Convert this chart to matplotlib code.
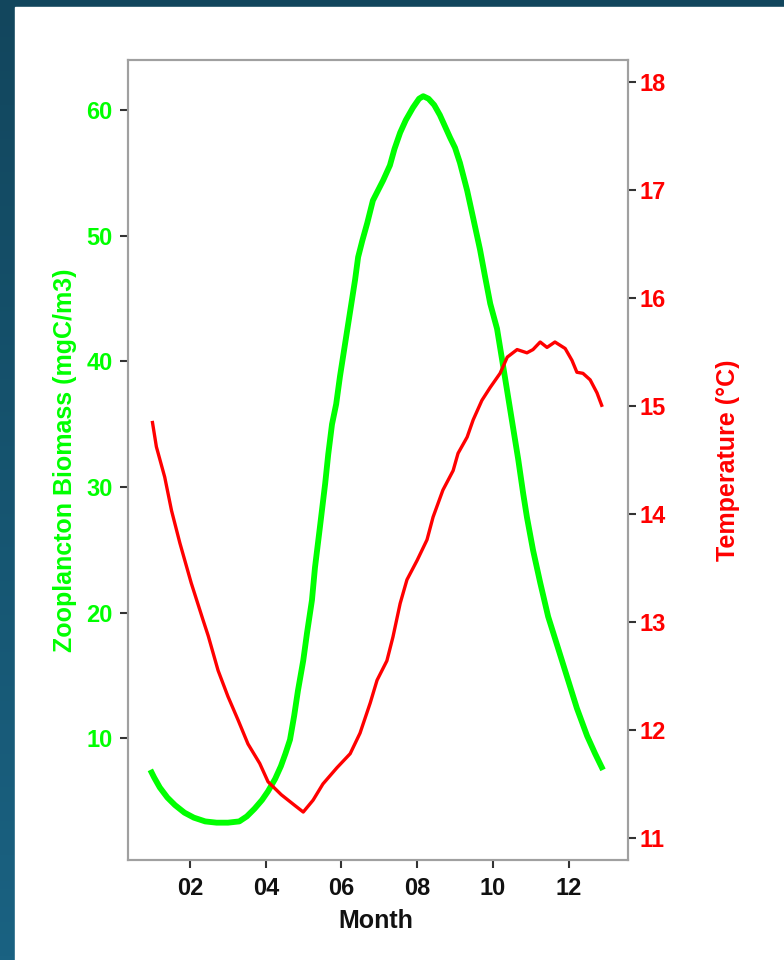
import numpy as np
import matplotlib.pyplot as plt
from matplotlib.colors import LinearSegmentedColormap
from matplotlib.patches import Rectangle

plt.rcParams['font.family'] = ['Liberation Sans', 'DejaVu Sans']
plt.rcParams['font.weight'] = 'bold'
plt.rcParams['axes.labelweight'] = 'bold'

# Zooplankton biomass (mgC/m3) by decimal month
bio_month = [0.95, 1.05, 1.2, 1.4, 1.6, 1.85, 2.1, 2.4, 2.7, 3.0, 3.3, 3.5, 3.7, 3.9,
             4.06, 4.25, 4.4, 4.52, 4.64, 4.75, 4.85, 4.99, 5.09, 5.22, 5.3, 5.43,
             5.57, 5.65, 5.75, 5.86, 5.96, 6.1, 6.23, 6.36, 6.44, 6.55, 6.68, 6.83,
             7.1, 7.28, 7.4, 7.55, 7.7, 7.89, 8.05, 8.16, 8.3, 8.45, 8.6, 8.75, 8.87,
             9.0, 9.13, 9.32, 9.48, 9.66, 9.79, 9.93, 10.11, 10.24, 10.38, 10.53,
             10.67, 10.8, 10.9, 11.06, 11.25, 11.46, 11.7, 11.96, 12.22, 12.49, 12.7,
             12.91]
biomass = [7.5, 6.9, 6.1, 5.3, 4.7, 4.1, 3.7, 3.4, 3.3, 3.3, 3.4, 3.8, 4.4, 5.1,
           5.8, 6.8, 7.8, 8.8, 9.9, 11.8, 13.8, 16.2, 18.4, 21.0, 23.6, 26.8,
           30.3, 32.6, 35.0, 36.6, 38.8, 41.5, 44.0, 46.5, 48.3, 49.6, 51.0, 52.8,
           54.4, 55.6, 56.9, 58.2, 59.2, 60.2, 60.9, 61.1, 60.9, 60.4, 59.6, 58.6, 57.8,
           57.0, 55.8, 53.6, 51.4, 48.9, 46.8, 44.6, 42.6, 40.2, 37.6, 34.8,
           32.2, 29.5, 27.6, 25.0, 22.4, 19.7, 17.4, 14.9, 12.4, 10.2, 8.8,
           7.5]

# Sea temperature (°C) by decimal month
temp_month = [1.0, 1.11, 1.33, 1.51, 1.73, 2.03, 2.34, 2.48, 2.74, 3.0, 3.27, 3.53,
              3.84, 4.06, 4.41, 4.77, 4.99, 5.25, 5.51, 5.88, 6.23, 6.49, 6.76, 6.94,
              7.2, 7.36, 7.55, 7.73, 8.0, 8.26, 8.42, 8.68, 8.95, 9.08, 9.32, 9.48,
              9.71, 9.93, 10.19, 10.38, 10.64, 10.9, 11.06, 11.25, 11.43, 11.64,
              11.91, 12.09, 12.22, 12.38, 12.57, 12.75, 12.89]
temperature = [14.86, 14.62, 14.34, 14.03, 13.73, 13.36, 13.02, 12.87, 12.55, 12.31,
               12.09, 11.87, 11.69, 11.52, 11.4, 11.3, 11.24, 11.35, 11.5, 11.65,
               11.78, 11.97, 12.25, 12.46, 12.64, 12.86, 13.17, 13.39, 13.57, 13.76,
               13.97, 14.22, 14.4, 14.56, 14.71, 14.87, 15.05, 15.17, 15.3, 15.45,
               15.52, 15.49, 15.52, 15.59, 15.54, 15.59, 15.53, 15.42, 15.31, 15.3,
               15.24, 15.12, 14.99]

month_ticks = [2, 4, 6, 8, 10, 12]
month_labels = ["02", "04", "06", "08", "10", "12"]
bio_ticks = [10, 20, 30, 40, 50, 60]
temp_ticks = [11, 12, 13, 14, 15, 16, 17, 18]

GREEN = "#00ff00"
RED = "#ff0000"

fig = plt.figure(figsize=(7.84, 9.6), dpi=100)

# dark gradient frame with a white panel
bg = fig.add_axes([0, 0, 1, 1], zorder=-10)
cmap = LinearSegmentedColormap.from_list("frame", ["#1a6282", "#12465d"])
bg.imshow(np.linspace(0, 1, 256).reshape(-1, 1)[::-1], aspect="auto", cmap=cmap,
          extent=[0, 1, 0, 1], origin="upper")
bg.add_patch(Rectangle((15 / 784, 0), 1, 1 - 7 / 960, color="white"))
bg.set_xlim(0, 1)
bg.set_ylim(0, 1)
bg.axis("off")

ax = fig.add_axes([128 / 784, 100 / 960, 500 / 784, 800 / 960])
ax2 = ax.twinx()

ax.plot(bio_month, biomass, color=GREEN, lw=4.2, solid_capstyle="butt")
ax2.plot(temp_month, temperature, color=RED, lw=2.4, solid_capstyle="butt")

ax.set_xlim(0.36, 13.57)
ax.set_ylim(0.33, 63.98)
ax2.set_ylim(10.796, 18.2)

ax.set_xticks(month_ticks)
ax.set_xticklabels(month_labels)
ax.set_yticks(bio_ticks)
ax2.set_yticks(temp_ticks)

for a in (ax, ax2):
    for s in a.spines.values():
        s.set_color("#a0a0a0")
        s.set_linewidth(1.5)

ax.tick_params(axis="x", length=6, width=1.5, color="#333333", pad=6,
               labelsize=17, labelcolor="#111111")
ax.tick_params(axis="y", length=6, width=1.5, color="#333333", pad=5,
               labelsize=17, labelcolor=GREEN)
ax2.tick_params(axis="y", length=6, width=1.5, color="#333333", pad=2,
                labelsize=17, labelcolor=RED)

ax.set_xlabel("Month", fontsize=18, fontweight="bold", color="#111111", va="center")
ax.xaxis.set_label_coords(0.496, -0.076)
ax.set_ylabel("Zooplancton Biomass (mgC/m3)", fontsize=18, fontweight="bold",
              color=GREEN, va="center")
ax.yaxis.set_label_coords(-0.126, 0.5)
ax2.set_ylabel("Temperature (°C)", fontsize=18, fontweight="bold", color=RED,
               va="center", rotation=90)
ax2.yaxis.set_label_coords(1.2, 0.5)

plt.savefig("out.png", dpi=100)
